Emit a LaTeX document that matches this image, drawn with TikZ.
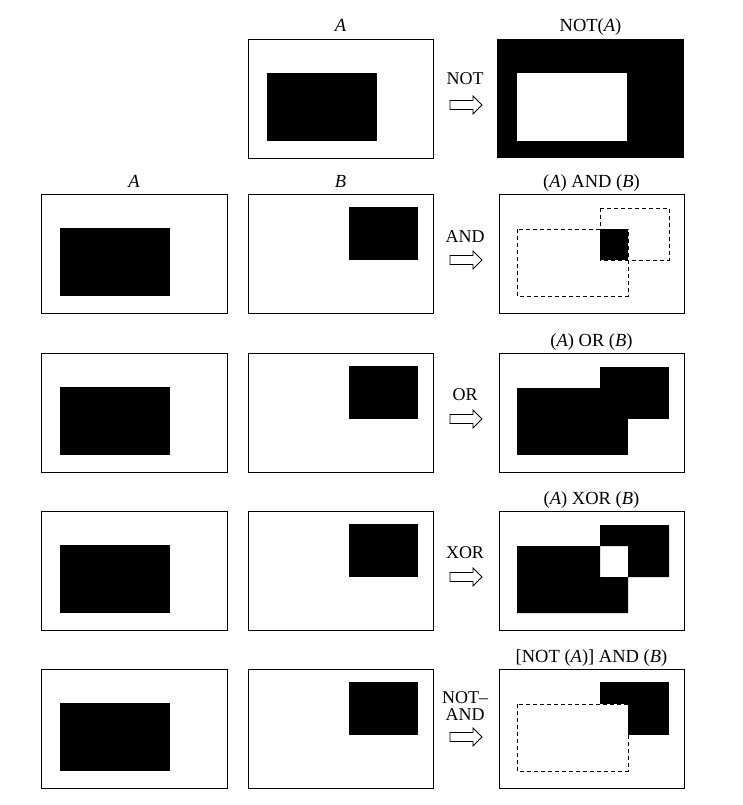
\documentclass[tikz,border=0pt]{standalone}
\usepackage{fontspec}
\setmainfont{Liberation Serif}
\begin{document}
\begin{tikzpicture}[x=1pt,y=-1pt,
  frame/.style={draw=black, line width=0.9pt},
  blk/.style={fill=black},
  dsh/.style={draw=black, line width=0.9pt, dash pattern=on 4pt off 3pt},
  lbl/.style={font=\fontsize{18.5}{20}\selectfont, anchor=base, inner sep=0pt},
  oplbl/.style={font=\fontsize{18}{19}\selectfont, anchor=base, inner sep=0pt},
  arr/.style={draw=black, line width=0.8pt, fill=white, line join=miter}]
\useasboundingbox (0,0) rectangle (743,805);
\newcommand\oparrow[1]{\draw[arr] (450,#1-4.5) -- (473,#1-4.5) -- (473,#1-9) -- (482,#1) -- (473,#1+9) -- (473,#1+4.5) -- (450,#1+4.5) -- cycle;}
% ---------- row 1: NOT ----------
\draw[frame] (248,39) rectangle (433,158);
\fill[blk] (267,73) rectangle (377,141);
\fill[blk] (497,39) rectangle (684,158);
\fill[white] (517,73) rectangle (627,141);
\node[lbl] (la1) at (340.5,32) {\textit{A}};
\node[lbl] (ln1) at (590.5,32) {NOT(\textit{A})};
\node[oplbl] (op1) at (465,85) {NOT};
\oparrow{105}
% ---------- rows 2-5: inputs ----------
\foreach \T in {194,353,511,669}{
  \draw[frame] (41,\T) rectangle (227,\T+119);
  \fill[blk] (60,\T+34) rectangle (170,\T+102);
  \draw[frame] (248,\T) rectangle (433,\T+119);
  \fill[blk] (349,\T+13) rectangle (418,\T+66);
  \draw[frame] (499,\T) rectangle (684,\T+119);
}
% ---------- row 2: AND ----------
\node[lbl] (la2) at (134,187) {\textit{A}};
\node[lbl] (lb2) at (340.5,187) {\textit{B}};
\node[lbl] (lr2) at (591.5,187) {(\textit{A}) AND (\textit{B})};
\node[oplbl] (op2) at (465,242) {AND};
\oparrow{260}
\fill[blk] (600,229) rectangle (628,260);
\draw[dsh] (517,229) rectangle (628,296);
\draw[dsh] (600,208) rectangle (669,260);
% ---------- row 3: OR ----------
\node[lbl] (lr3) at (591.5,346) {(\textit{A}) OR (\textit{B})};
\node[oplbl] (op3) at (465,400) {OR};
\oparrow{419}
\fill[blk] (517,388) rectangle (628,455);
\fill[blk] (600,367) rectangle (669,419);
% ---------- row 4: XOR ----------
\node[lbl] (lr4) at (591.5,504) {(\textit{A}) XOR (\textit{B})};
\node[oplbl] (op4) at (465,558) {XOR};
\oparrow{577}
\fill[blk, even odd rule] (517,546) rectangle (628,613) (600,525) rectangle (669,577);
% ---------- row 5: NOT-AND ----------
\node[lbl] (lr5) at (591.5,662) {[NOT (\textit{A})] AND (\textit{B})};
\node[oplbl] (op5a) at (465,703) {NOT–};
\node[oplbl] (op5b) at (465,720) {AND};
\oparrow{737}
\fill[blk] (600,682) rectangle (669,735);
\draw[dsh, fill=white] (517,704) rectangle (628,771);
\end{tikzpicture}
\end{document}
